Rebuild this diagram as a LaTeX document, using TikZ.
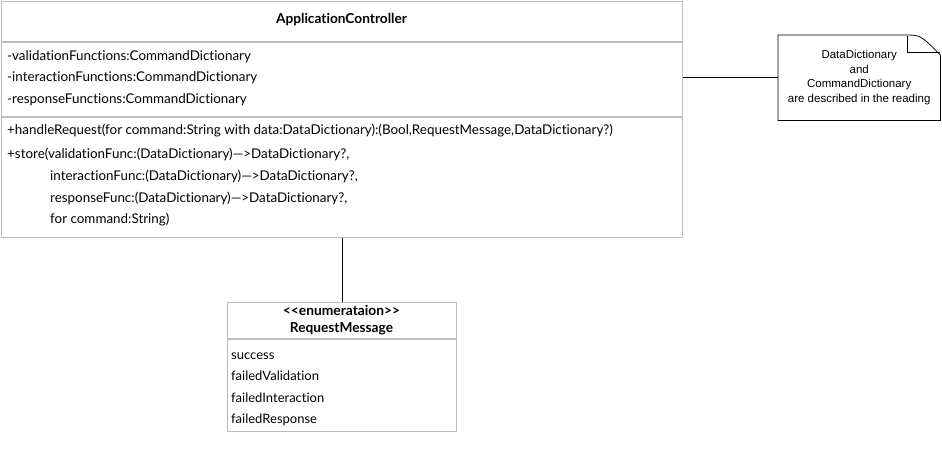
\documentclass[tikz,border=0pt]{standalone}
\usepackage{fontspec}
\setmainfont{Lato}[Ligatures={TeX,NoCommon}]
\newfontfamily\notefont{Liberation Sans}
\usepackage{xcolor}
\definecolor{umlgray}{RGB}{186,190,194}
\usetikzlibrary{calc, positioning}

\tikzset{
    umlbox/.style={draw=umlgray, line width=1.3pt, fill=white, inner sep=0pt},
    member/.style={anchor=west, inner sep=0pt, font=\fontsize{13.4}{15}\selectfont},
    umltitle/.style={inner sep=0pt, font=\fontsize{13.7}{15}\selectfont\bfseries},
    link/.style={draw=black, line width=0.8pt}
}

\begin{document}
\begin{tikzpicture}[x=1pt, y=-1pt]
    \useasboundingbox (0,0) rectangle (942,453);

    % Classe principal
    \node[umlbox, anchor=north west, minimum width=681pt, minimum height=236pt] (ctrl) at (1,1) {};
    \node[umltitle] (ctrlname) at (341.5,20) {ApplicationController};
    \draw[umlgray, line width=1.3pt] (1,42) -- (682,42);
    \draw[umlgray, line width=1.3pt] (1,117) -- (682,117);

    % Atributos
    \node[member] (attr1) at (7,57) {-validationFunctions:CommandDictionary};
    \node[member] (attr2) at (7,78) {-interactionFunctions:CommandDictionary};
    \node[member] (attr3) at (7,100) {-responseFunctions:CommandDictionary};

    % Metodos
    \node[member] (op1) at (7,131) {+handleRequest(for command:String with data:DataDictionary):(Bool,RequestMessage,DataDictionary?)};
    \node[member] (op2) at (7,154) {+store(validationFunc:(DataDictionary)\textemdash>DataDictionary?,};
    \node[member] (op3) at (50,176) {interactionFunc:(DataDictionary)\textemdash>DataDictionary?,};
    \node[member] (op4) at (50,198) {responseFunc:(DataDictionary)\textemdash>DataDictionary?,};
    \node[member] (op5) at (50,220) {for command:String)};

    % Nota
    \node[inner sep=0pt, minimum width=162pt, minimum height=85pt, anchor=north west,
          align=center, font=\notefont\fontsize{11.5}{14.5}\selectfont] (note) at (778,35)
          {DataDictionary\\and\\CommandDictionary\\are described in the reading};
    \draw[line width=0.8pt] (note.north west) -- ($(note.north east)+(-35,0)$)
        .. controls ($(note.north east)+(-20,0)$) .. ($(note.north east)+(0,20)$)
        -- (note.south east) -- (note.south west) -- cycle;
    \draw[line width=0.8pt] ($(note.north east)+(-33,1)$) -- ($(note.north east)+(-33,17)$)
        -- ($(note.north east)+(0,17)$);
    \draw[link] (ctrl.east |- note.west) -- (note.west);

    % Enumeracao
    \node[umlbox, anchor=north west, minimum width=229pt, minimum height=129pt] (enum) at (227,302) {};
    \draw[umlgray, line width=1.3pt] (227,339) -- (456,339);
    \node[umltitle, font=\fontsize{13.8}{15}\selectfont\bfseries] (stereo) at (341.5,310) {<\kern0pt<enumerataion>\kern0pt>};
    \node[umltitle] (enumname) at (341.5,329) {RequestMessage};
    \foreach \lbl/\y [count=\i] in {success/356, failedValidation/376, failedInteraction/398, failedResponse/420}
        \node[member, font=\fontsize{13}{15}\selectfont] (lit\i) at (231,\y) {\lbl};

    \draw[link] (ctrl.south) -- (enum.north);
\end{tikzpicture}
\end{document}
